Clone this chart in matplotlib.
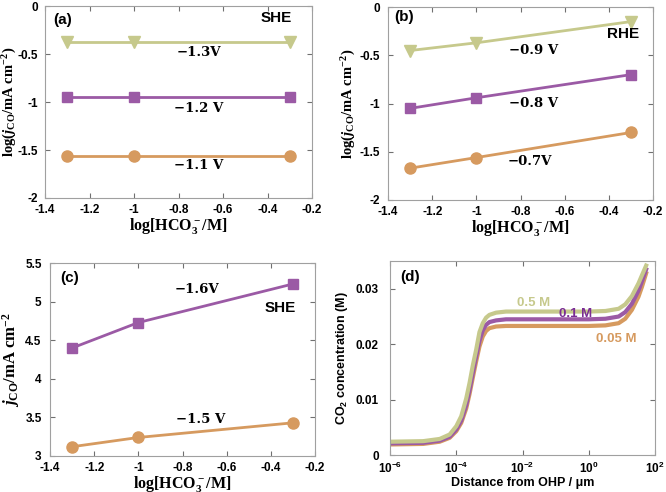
import matplotlib
matplotlib.use("Agg")
import matplotlib.pyplot as plt
import numpy as np

plt.rcParams['axes.unicode_minus'] = False
plt.rcParams['mathtext.fontset'] = 'custom'
plt.rcParams['mathtext.rm'] = 'Liberation Serif:bold'
plt.rcParams['mathtext.it'] = 'Liberation Serif:italic:bold'
plt.rcParams['mathtext.bf'] = 'Liberation Serif:bold'
plt.rcParams['mathtext.sf'] = 'Liberation Sans:bold'

GREEN = '#c6c98c'
PURPLE = '#9b5aa5'
ORANGE = '#d69a5f'
DARK_PURPLE = '#7a2d94'

# panels a-c: log[HCO3-] on x
conc_log = [-1.3, -1.0, -0.3]

a_m13 = [-0.37, -0.37, -0.37]
a_m12 = [-0.95, -0.95, -0.95]
a_m11 = [-1.56, -1.56, -1.56]

b_m09 = [-0.45, -0.37, -0.15]
b_m08 = [-1.05, -0.94, -0.70]
b_m07 = [-1.67, -1.56, -1.30]

c_m16 = [4.40, 4.73, 5.23]
c_m15 = [3.12, 3.24, 3.43]

# panel d: log10(distance / um) and CO2 concentration (M)
d_logx = [-6, -5, -4.5, -4.2, -4.0, -3.85, -3.7, -3.6, -3.5, -3.4, -3.3, -3.2,
          -3.1, -3.0, -2.8, -2.5, -2, -1, 0, 0.5, 0.9, 1.1, 1.3, 1.5, 1.6, 1.73]
d_05 = [0.0024, 0.0025, 0.0029, 0.0037, 0.0052, 0.0070, 0.0102, 0.0130, 0.0162,
        0.0190, 0.0222, 0.0238, 0.0248, 0.0253, 0.0257, 0.0259, 0.0259, 0.0259,
        0.0259, 0.0260, 0.0264, 0.0272, 0.0287, 0.0310, 0.0324, 0.0342]
d_01 = [0.0021, 0.0022, 0.0026, 0.0033, 0.0046, 0.0062, 0.0090, 0.0117, 0.0148,
        0.0178, 0.0206, 0.0225, 0.0235, 0.0240, 0.0243, 0.0245, 0.0245, 0.0245,
        0.0245, 0.0246, 0.0250, 0.0258, 0.0273, 0.0297, 0.0313, 0.0335]
d_005 = [0.0019, 0.0020, 0.0024, 0.0031, 0.0043, 0.0058, 0.0084, 0.0110, 0.0140,
         0.0169, 0.0196, 0.0214, 0.0224, 0.0229, 0.0232, 0.0233, 0.0233, 0.0233,
         0.0233, 0.0234, 0.0238, 0.0246, 0.0262, 0.0286, 0.0303, 0.0328]

x_ticks = [-1.4, -1.2, -1, -0.8, -0.6, -0.4, -0.2]
x_ticklabels = ['-1.4', '-1.2', '-1', '-0.8', '-0.6', '-0.4', '-0.2']

fig = plt.figure(figsize=(6.66, 4.92), dpi=100)
ax_a = fig.add_axes([0.0676, 0.5976, 0.401, 0.390])
ax_b = fig.add_axes([0.5826, 0.5935, 0.398, 0.392])
ax_c = fig.add_axes([0.0751, 0.0732, 0.398, 0.392])
ax_d = fig.add_axes([0.5856, 0.0752, 0.398, 0.394])

serif = dict(family='DejaVu Serif', fontweight='bold', fontsize=9.5)
sans = dict(family=['Liberation Sans', 'DejaVu Sans'], fontweight='bold')


def style(ax):
    for s in ax.spines.values():
        s.set_color('#a0a0a0')
        s.set_linewidth(0.8)
    ax.tick_params(direction='in', top=True, right=True, length=3.5,
                   width=0.8, color='#707070', labelsize=8.5)
    ax.tick_params(axis='x', pad=4)
    ax.tick_params(axis='y', pad=6)
    for lab in ax.get_xticklabels() + ax.get_yticklabels():
        lab.set_fontweight('bold')
        lab.set_family(['Liberation Sans', 'DejaVu Sans'])


hco3_label = r'$\mathrm{log[HCO_3^-/M]}$'
logj_label = r'$\mathrm{log(}j_{\mathrm{CO}}\mathrm{/mA\ cm^{-2})}$'

# (a)
ax_a.plot(conc_log, a_m13, color=GREEN, lw=2, marker='v', ms=9)
ax_a.plot(conc_log, a_m12, color=PURPLE, lw=2, marker='s', ms=6.5)
ax_a.plot(conc_log, a_m11, color=ORANGE, lw=2, marker='o', ms=8)
ax_a.set_xlim(-1.4, -0.2)
ax_a.set_ylim(-2, 0)
ax_a.set_xticks(x_ticks, x_ticklabels)
ax_a.set_yticks([-2, -1.5, -1, -0.5, 0], ['-2', '-1.5', '-1', '-0.5', '0'])
ax_a.set_xlabel(hco3_label, fontsize=11.5, labelpad=0)
ax_a.set_ylabel(logj_label, fontsize=10.5)
ax_a.text(-0.71, -0.485, '−1.3V', ha='center', va='center', **serif)
ax_a.text(-0.71, -1.07, '−1.2 V', ha='center', va='center', **serif)
ax_a.text(-0.71, -1.66, '−1.1 V', ha='center', va='center', **serif)
ax_a.text(-0.36, -0.12, 'SHE', ha='center', va='center', fontsize=11, **sans)
ax_a.text(-1.32, -0.15, '(a)', ha='center', va='center', fontsize=11, **sans)
style(ax_a)
ax_a.tick_params(axis='y', pad=5)
ax_a.yaxis.set_label_coords(-0.098, 0.5)

# (b)
ax_b.plot(conc_log, b_m09, color=GREEN, lw=2, marker='v', ms=9)
ax_b.plot(conc_log, b_m08, color=PURPLE, lw=2, marker='s', ms=6.5)
ax_b.plot(conc_log, b_m07, color=ORANGE, lw=2, marker='o', ms=8)
ax_b.set_xlim(-1.4, -0.2)
ax_b.set_ylim(-2, 0)
ax_b.set_xticks(x_ticks, x_ticklabels)
ax_b.set_yticks([-2, -1.5, -1, -0.5, 0], ['-2', '-1.5', '-1', '-0.5', '0'])
ax_b.set_xlabel(hco3_label, fontsize=11.5, labelpad=0)
ax_b.set_ylabel(logj_label, fontsize=10.5, labelpad=1)
ax_b.text(-0.743, -0.446, '−0.9 V', ha='center', va='center', **serif)
ax_b.text(-0.743, -1.0, '−0.8 V', ha='center', va='center', **serif)
ax_b.text(-0.758, -1.60, '−0.7V', ha='center', va='center', **serif)
ax_b.text(-0.336, -0.275, 'RHE', ha='center', va='center', fontsize=11, **sans)
ax_b.text(-1.328, -0.10, '(b)', ha='center', va='center', fontsize=11, **sans)
style(ax_b)

# (c)
ax_c.plot(conc_log, c_m16, color=PURPLE, lw=2, marker='s', ms=6.5)
ax_c.plot(conc_log, c_m15, color=ORANGE, lw=2, marker='o', ms=8)
ax_c.set_xlim(-1.4, -0.2)
ax_c.set_ylim(3, 5.5)
ax_c.set_xticks(x_ticks, x_ticklabels)
ax_c.set_yticks([3, 3.5, 4, 4.5, 5, 5.5], ['3', '3.5', '4', '4.5', '5', '5.5'])
ax_c.set_xlabel(hco3_label, fontsize=11.5, labelpad=0)
ax_c.set_ylabel(r'$j_{\mathrm{CO}}\mathrm{/mA\ cm^{-2}}$', fontsize=12, labelpad=2)
ax_c.text(-0.735, 5.16, '−1.6V', ha='center', va='center', **serif)
ax_c.text(-0.72, 3.47, '−1.5 V', ha='center', va='center', **serif)
ax_c.text(-0.358, 4.92, 'SHE', ha='center', va='center', fontsize=11, **sans)
ax_c.text(-1.31, 5.31, '(c)', ha='center', va='center', fontsize=11, **sans)
style(ax_c)

# (d)
dist = 10.0 ** np.array(d_logx)
ax_d.plot(dist, d_005, color=ORANGE, lw=3)
ax_d.plot(dist, d_01, color=PURPLE, lw=3)
ax_d.plot(dist, d_05, color=GREEN, lw=3)
ax_d.set_xscale('log')
ax_d.set_xlim(1e-6, 1e2)
ax_d.set_ylim(0, 0.035)
d_xt = [1e-6, 1e-4, 1e-2, 1e0, 1e2]
ax_d.set_xticks(d_xt, [r'$\mathsf{10^{%d}}$' % int(np.log10(v)) for v in d_xt])
ax_d.minorticks_off()
ax_d.set_yticks([0, 0.01, 0.02, 0.03], ['0', '0.01', '0.02', '0.03'])
ax_d.set_xlabel('Distance from OHP / μm', fontsize=9, labelpad=1, **sans)
ax_d.set_ylabel(r'CO$\mathsf{_2}$ concentration (M)', fontsize=9, labelpad=4, **sans)
ax_d.text(10 ** -1.68, 0.0275, '0.5 M', color=GREEN, ha='center', va='center', fontsize=9.5, **sans)
ax_d.text(10 ** -0.39, 0.0254, '0.1 M', color=DARK_PURPLE, ha='center', va='center', fontsize=9.5, **sans)
ax_d.text(10 ** 0.82, 0.0209, '0.05 M', color=ORANGE, ha='center', va='center', fontsize=9.5, **sans)
ax_d.text(10 ** -5.4, 0.0321, '(d)', ha='center', va='center', fontsize=11, **sans)
style(ax_d)
ax_d.tick_params(axis='y', pad=8)

fig.savefig('out.png', dpi=100)
